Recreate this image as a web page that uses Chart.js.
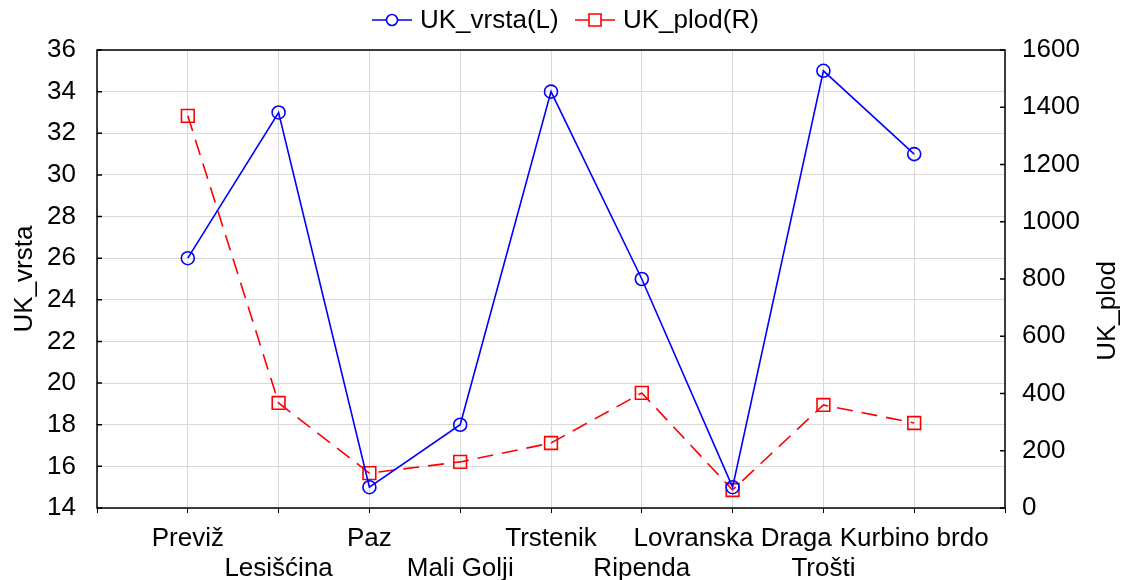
<!DOCTYPE html>
<html>
<head>
<meta charset="utf-8">
<script src="https://cdn.jsdelivr.net/npm/chart.js@4"></script>
<style>
  html, body { margin: 0; padding: 0; background: #fff; }
  #wrap { width: 1126px; height: 580px; }
</style>
</head>
<body>
<div id="wrap"><canvas id="myChart" width="1126" height="580"></canvas></div>
<script>
// data
const sites = ["Previž", "Lesišćina", "Paz", "Mali Golji", "Trstenik", "Ripenda", "Lovranska Draga", "Trošti", "Kurbino brdo"];
const ukVrsta = [26, 33, 15, 18, 34, 25, 15, 35, 31];
const ukPlod = [1370, 367, 122, 161, 227, 402, 63, 360, 297];
const leftTicks = [14, 16, 18, 20, 22, 24, 26, 28, 30, 32, 34, 36];
const rightTicks = [0, 200, 400, 600, 800, 1000, 1200, 1400, 1600];

const FONT = "'Liberation Sans', Arial, sans-serif";
const FSIZE = 26;
const BLUE = "#0000ff";
const RED = "#ff0000";

// top legend: line with a marker in the middle, like the original
const topLegend = {
    id: "topLegend",
    afterDraw(chart) {
        const ctx = chart.ctx;
        const items = [
            { x: 372, text: "UK_vrsta(L)", color: BLUE, marker: "circle" },
            { x: 575, text: "UK_plod(R)", color: RED, marker: "square" }
        ];
        const y = 20;
        ctx.save();
        items.forEach(function (it) {
            ctx.strokeStyle = it.color;
            ctx.lineWidth = 1.6;
            ctx.beginPath();
            ctx.moveTo(it.x, y);
            ctx.lineTo(it.x + 40, y);
            ctx.stroke();
            ctx.fillStyle = "#fff";
            ctx.beginPath();
            if (it.marker === "circle") {
                ctx.arc(it.x + 20, y, 5.5, 0, Math.PI * 2);
            } else {
                ctx.rect(it.x + 14, y - 6, 12, 12);
            }
            ctx.fill();
            ctx.stroke();
            ctx.fillStyle = "#000";
            ctx.font = FSIZE + "px " + FONT;
            ctx.textBaseline = "middle";
            ctx.textAlign = "left";
            ctx.fillText(it.text, it.x + 48, y + 1);
        });
        ctx.restore();
    }
};

// frame around the plot, short inward ticks on both y axes, right axis title
const frame = {
    id: "frame",
    afterDatasetsDraw(chart) {
        const ctx = chart.ctx;
        const a = chart.chartArea;
        ctx.save();
        ctx.strokeStyle = "#000";
        ctx.lineWidth = 1.5;
        ctx.strokeRect(a.left, a.top, a.right - a.left, a.bottom - a.top);
        ctx.beginPath();
        chart.scales.y.ticks.forEach(function (t) {
            const py = chart.scales.y.getPixelForValue(t.value);
            ctx.moveTo(a.left, py);
            ctx.lineTo(a.left + 5, py);
        });
        chart.scales.y1.ticks.forEach(function (t) {
            const py = chart.scales.y1.getPixelForValue(t.value);
            ctx.moveTo(a.right, py);
            ctx.lineTo(a.right - 5, py);
        });
        ctx.stroke();

        // right title reads bottom to top
        ctx.translate(1108, 311);
        ctx.rotate(-Math.PI / 2);
        ctx.fillStyle = "#000";
        ctx.font = FSIZE + "px " + FONT;
        ctx.textAlign = "center";
        ctx.textBaseline = "middle";
        ctx.fillText("UK_plod", 0, 0);
        ctx.restore();
    }
};

const ctx = document.getElementById("myChart").getContext("2d");

new Chart(ctx, {
    type: "line",
    data: {
        datasets: [
            {
                label: "UK_vrsta(L)",
                data: ukVrsta.map((v, i) => ({ x: i, y: v })),
                yAxisID: "y",
                borderColor: BLUE,
                borderWidth: 1.6,
                pointStyle: "circle",
                pointRadius: 6.5,
                pointBorderWidth: 1.6,
                pointBackgroundColor: "rgba(255,255,255,0)",
                pointBorderColor: BLUE,
                tension: 0
            },
            {
                label: "UK_plod(R)",
                data: ukPlod.map((v, i) => ({ x: i, y: v })),
                yAxisID: "y1",
                borderColor: RED,
                borderWidth: 1.6,
                borderDash: [16, 9],
                pointStyle: "rect",
                pointRadius: 9,
                pointBorderWidth: 1.6,
                pointBackgroundColor: "rgba(255,255,255,0)",
                pointBorderColor: RED,
                tension: 0
            }
        ]
    },
    options: {
        responsive: false,
        animation: false,
        layout: { padding: { top: 50, left: 0, right: 0, bottom: 0 } },
        plugins: {
            legend: { display: false },
            tooltip: { enabled: false }
        },
        scales: {
            x: {
                type: "linear",
                min: -1,
                max: sites.length,
                afterBuildTicks(scale) {
                    const t = [];
                    for (let i = -1; i <= sites.length; i++) t.push({ value: i });
                    scale.ticks = t;
                },
                afterFit(scale) { scale.height = 72; },
                border: { display: false },
                grid: {
                    color: "#d9d9d9",
                    lineWidth: 1,
                    drawTicks: true,
                    tickLength: 5,
                    tickColor: "#000"
                },
                ticks: {
                    autoSkip: false,
                    maxRotation: 0,
                    padding: 11,
                    color: "#000",
                    font: { family: FONT, size: FSIZE, lineHeight: 1.15 },
                    callback: function (value) {
                        const name = sites[value];
                        if (name === undefined) return "";
                        return value % 2 === 1 ? ["", name] : name;
                    }
                }
            },
            y: {
                position: "left",
                min: 14,
                max: 36,
                afterBuildTicks(scale) {
                    scale.ticks = leftTicks.map(v => ({ value: v }));
                },
                afterFit(scale) { scale.width = 97; },
                border: { display: false },
                grid: { color: "#d9d9d9", drawTicks: false },
                ticks: {
                    padding: 21,
                    color: "#000",
                    font: { family: FONT, size: FSIZE }
                },
                title: {
                    display: true,
                    text: "UK_vrsta",
                    color: "#000",
                    font: { family: FONT, size: FSIZE },
                    padding: { top: 9 }
                }
            },
            y1: {
                position: "right",
                min: 0,
                max: 1600,
                afterBuildTicks(scale) {
                    scale.ticks = rightTicks.map(v => ({ value: v }));
                },
                afterFit(scale) { scale.width = 121; },
                border: { display: false },
                grid: { display: false, drawTicks: false },
                ticks: {
                    padding: 17,
                    color: "#000",
                    font: { family: FONT, size: FSIZE },
                    callback: v => String(v)
                }
            }
        }
    },
    plugins: [topLegend, frame]
});
</script>
</body>
</html>
